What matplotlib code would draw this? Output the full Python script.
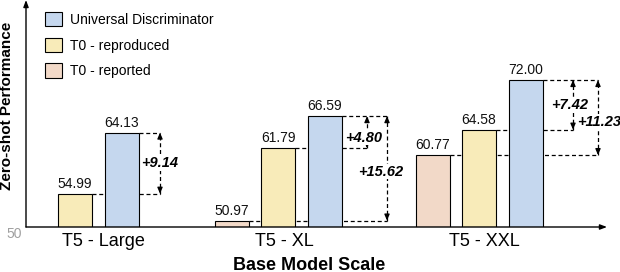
import numpy as np
import matplotlib
matplotlib.use("Agg")
import matplotlib.pyplot as plt
from matplotlib.patches import Patch

plt.rcParams['font.family'] = ['Liberation Sans', 'DejaVu Sans']

# data
categories = ['T5 - Large', 'T5 - XL', 'T5 - XXL']
t0_reported = [np.nan, 50.97, 60.77]
t0_reproduced = [54.99, 61.79, 64.58]
universal_disc = [64.13, 66.59, 72.00]

c_blue = '#c5d7ee'
c_yellow = '#f8ebb9'
c_peach = '#f2d9c8'

fig = plt.figure(figsize=(6.2, 2.72), dpi=100)
ax = fig.add_axes([26/620, 45/272, 581/620, 227/272])

# layout (x axis in pixel-like units)
mid_x = np.array([49, 252, 453])
step = 46.5
w = 34
label_x = [77, 258, 458]

x_rep = mid_x - step
x_t0 = mid_x
x_ud = mid_x + step

bar_kw = dict(width=w, edgecolor='black', linewidth=0.8, zorder=3)
ax.bar(x_rep, t0_reported, color=c_peach, **bar_kw)
ax.bar(x_t0, t0_reproduced, color=c_yellow, **bar_kw)
ax.bar(x_ud, universal_disc, color=c_blue, **bar_kw)

# value labels
for xs, vals in [(x_rep, t0_reported), (x_t0, t0_reproduced), (x_ud, universal_disc)]:
    for x, v in zip(xs, vals):
        if np.isnan(v):
            continue
        ax.annotate(f'{v:.2f}', (x, v), xytext=(0, 2), textcoords='offset points',
                    ha='center', va='bottom', fontsize=10, color='#111111', zorder=5)

dash = (0, (3.2, 2.2))


def gap_arrow(x_arrow, x_from, low, high, text_dx=0, text_dy=0):
    # dashed guide lines from the bar tops, behind the bars
    ax.plot([x_from, x_arrow], [low, low], color='black', lw=0.9, ls=dash, zorder=1)
    ax.plot([x_arrow, x_arrow], [low, high], color='black', lw=0.9, ls=dash, zorder=2)
    hk = dict(arrowstyle='-|>,head_length=0.35,head_width=0.15', color='black',
              lw=0.9, shrinkA=0, shrinkB=0)
    ax.annotate('', xy=(x_arrow, high), xytext=(x_arrow, high - 0.6), arrowprops=hk, zorder=2)
    ax.annotate('', xy=(x_arrow, low), xytext=(x_arrow, low + 0.6), arrowprops=hk, zorder=2)
    ax.text(x_arrow + text_dx, (low + high) / 2 + text_dy, f'+{high - low:.2f}',
            ha='center', va='center', fontsize=10.5, fontweight='bold', style='italic',
            bbox=dict(facecolor='white', edgecolor='none', pad=0.5), zorder=4)


# T5 - Large
ax.plot([x_ud[0] + w/2, 134], [universal_disc[0]] * 2, color='black', lw=0.9, ls=dash, zorder=1)
gap_arrow(134, x_t0[0] + w/2, t0_reproduced[0], universal_disc[0])

# T5 - XL
ax.plot([x_ud[1] + w/2, 361], [universal_disc[1]] * 2, color='black', lw=0.9, ls=dash, zorder=1)
gap_arrow(341, x_t0[1] + w/2, t0_reproduced[1], universal_disc[1], text_dx=-3, text_dy=-0.8)
gap_arrow(361, x_rep[1] + w/2, t0_reported[1], universal_disc[1], text_dx=-6, text_dy=-0.5)

# T5 - XXL
ax.plot([x_ud[2] + w/2, 572], [universal_disc[2]] * 2, color='black', lw=0.9, ls=dash, zorder=1)
gap_arrow(547, x_t0[2] + w/2, t0_reproduced[2], universal_disc[2], text_dx=-3)
gap_arrow(572, x_rep[2] + w/2, t0_reported[2], universal_disc[2], text_dx=1, text_dy=-0.6)

ax.set_xlim(0, 581)
ax.set_ylim(50, 50 + 227 / 6.68)

for s in ax.spines.values():
    s.set_visible(False)

axk = dict(arrowstyle='-|>,head_length=0.4,head_width=0.15', color='black', lw=1.0,
           shrinkA=0, shrinkB=0)
ax.annotate('', xy=(0, 1), xytext=(0, 0), xycoords='axes fraction', arrowprops=axk, zorder=6)
ax.annotate('', xy=(1, 0), xytext=(0, 0), xycoords='axes fraction', arrowprops=axk, zorder=6)

ax.set_xticks(label_x, categories, fontsize=13)
ax.tick_params(axis='x', length=0, pad=4)
ax.set_yticks([50], ['50'])
ax.tick_params(axis='y', length=0, pad=3, labelsize=10, labelcolor='#a0a0a0')
for lbl in ax.get_yticklabels():
    lbl.set_va('top')

fig.text(309/620, 1 - 265/272, 'Base Model Scale', ha='center', va='center',
         fontsize=13, fontweight='bold')
fig.text(7/620, 1 - 106/272, 'Zero-shot Performance', ha='center', va='center',
         rotation=90, fontsize=11, fontweight='bold')

handles = [Patch(facecolor=c_blue, edgecolor='black', lw=0.8),
           Patch(facecolor=c_yellow, edgecolor='black', lw=0.8),
           Patch(facecolor=c_peach, edgecolor='black', lw=0.8)]
ax.legend(handles, ['Universal Discriminator', 'T0 - reproduced', 'T0 - reported'],
          loc='upper left', bbox_to_anchor=(45/620, 1 - 12/272),
          bbox_transform=fig.transFigure, frameon=False, fontsize=10,
          handlelength=1.22, handleheight=1.22, labelspacing=0.78,
          handletextpad=0.58, borderpad=0, borderaxespad=0)

fig.savefig('out.png', dpi=100)
